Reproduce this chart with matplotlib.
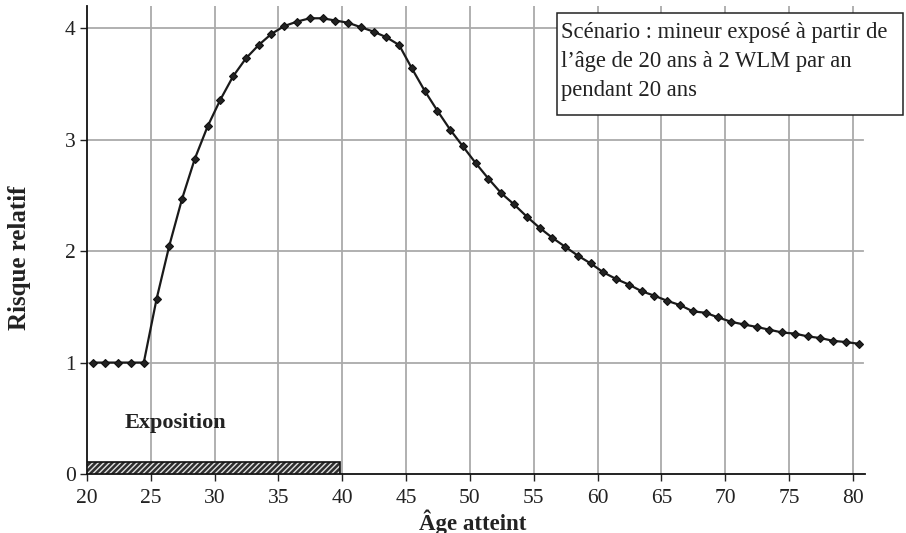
import matplotlib.pyplot as plt
from matplotlib.patches import Rectangle

# relative risk by attained age
ages = list(range(20, 81))
risque = [1.00, 1.00, 1.00, 1.00, 1.00,
          1.57, 2.05, 2.47, 2.83, 3.12, 3.36, 3.57, 3.73, 3.85, 3.95,
          4.02, 4.06, 4.09, 4.09, 4.07, 4.05, 4.01, 3.97, 3.92, 3.85,
          3.64, 3.44, 3.26, 3.09, 2.94, 2.79, 2.65, 2.52, 2.42, 2.31,
          2.21, 2.12, 2.04, 1.96, 1.89, 1.81, 1.75, 1.70, 1.64, 1.60,
          1.554, 1.516, 1.46, 1.447, 1.405, 1.366, 1.342, 1.32, 1.295, 1.27,
          1.26, 1.235, 1.22, 1.195, 1.184, 1.169]
x_ticks = [20, 25, 30, 35, 40, 45, 50, 55, 60, 65, 70, 75, 80]
y_ticks = [0, 1, 2, 3, 4]
expo_debut, expo_fin = 20, 39.8

plt.rcParams['font.family'] = ['Liberation Serif', 'DejaVu Serif']

fig = plt.figure(figsize=(9.06, 5.33), dpi=100)
ax = fig.add_axes([0.096, 0.1107, 0.8587, 0.878])

# points sit half a year to the right of the tick
ax.plot([a + 0.45 for a in ages], risque, color='#1a1a1a', lw=1.6,
        marker='D', ms=4, mfc='#222222', mec='#111111', mew=0.8, zorder=3)

# exposure bar
ax.add_patch(Rectangle((expo_debut, 0), expo_fin - expo_debut, 0.11,
                       facecolor='#2e2e2e', edgecolor='#e0e0e0', hatch='//////',
                       lw=0, zorder=3))
ax.add_patch(Rectangle((expo_debut, 0), expo_fin - expo_debut, 0.11,
                       fill=False, edgecolor='#111111', lw=1.2, zorder=4))
ax.text(22.95, 0.46, 'Exposition', fontsize=16, fontweight='bold',
        color='#222222', va='center', ha='left')

ax.set_xlim(20, 80.94)
ax.set_ylim(0, 4.2)
ax.set_xticks(x_ticks)
ax.set_yticks(y_ticks)
ax.tick_params(labelsize=15.5, colors='#222222', length=5, width=1, direction='out')
ax.tick_params(axis='x', pad=6)
ax.tick_params(axis='y', pad=3)

for t in x_ticks[1:]:
    ax.axvline(t, color='#aaaaaa', lw=1.3, zorder=1)
for t in y_ticks[1:]:
    ax.axhline(t, xmax=(80.75 - 20) / 60.94, color='#aaaaaa', lw=1.3, zorder=1)

for s in ['top', 'right']:
    ax.spines[s].set_visible(False)
for s in ['left', 'bottom']:
    ax.spines[s].set_color('#111111')
    ax.spines[s].set_linewidth(1.3)

fig.text(20 / 906, 1 - 258 / 533, 'Risque relatif', rotation=90, fontsize=18,
         fontweight='bold', color='#222222', ha='center', va='center')
fig.text(473 / 906, 1 - 522 / 533, 'Âge atteint', fontsize=16.5, fontweight='bold',
         color='#222222', ha='center', va='center')

# scenario box
fig.patches.append(Rectangle((557 / 906, 1 - 115 / 533), 346 / 906, 102 / 533,
                             transform=fig.transFigure, facecolor='white',
                             edgecolor='#222222', lw=1.1, zorder=5))
fig.text(561 / 906, 1 - 22 / 533,
         "Scénario : mineur exposé à partir de\nl’âge de 20 ans à 2 WLM par an\npendant 20 ans",
         fontsize=16.3, color='#222222', ha='left', va='top', linespacing=1.5,
         zorder=6)

fig.savefig('out.png', dpi=100)
